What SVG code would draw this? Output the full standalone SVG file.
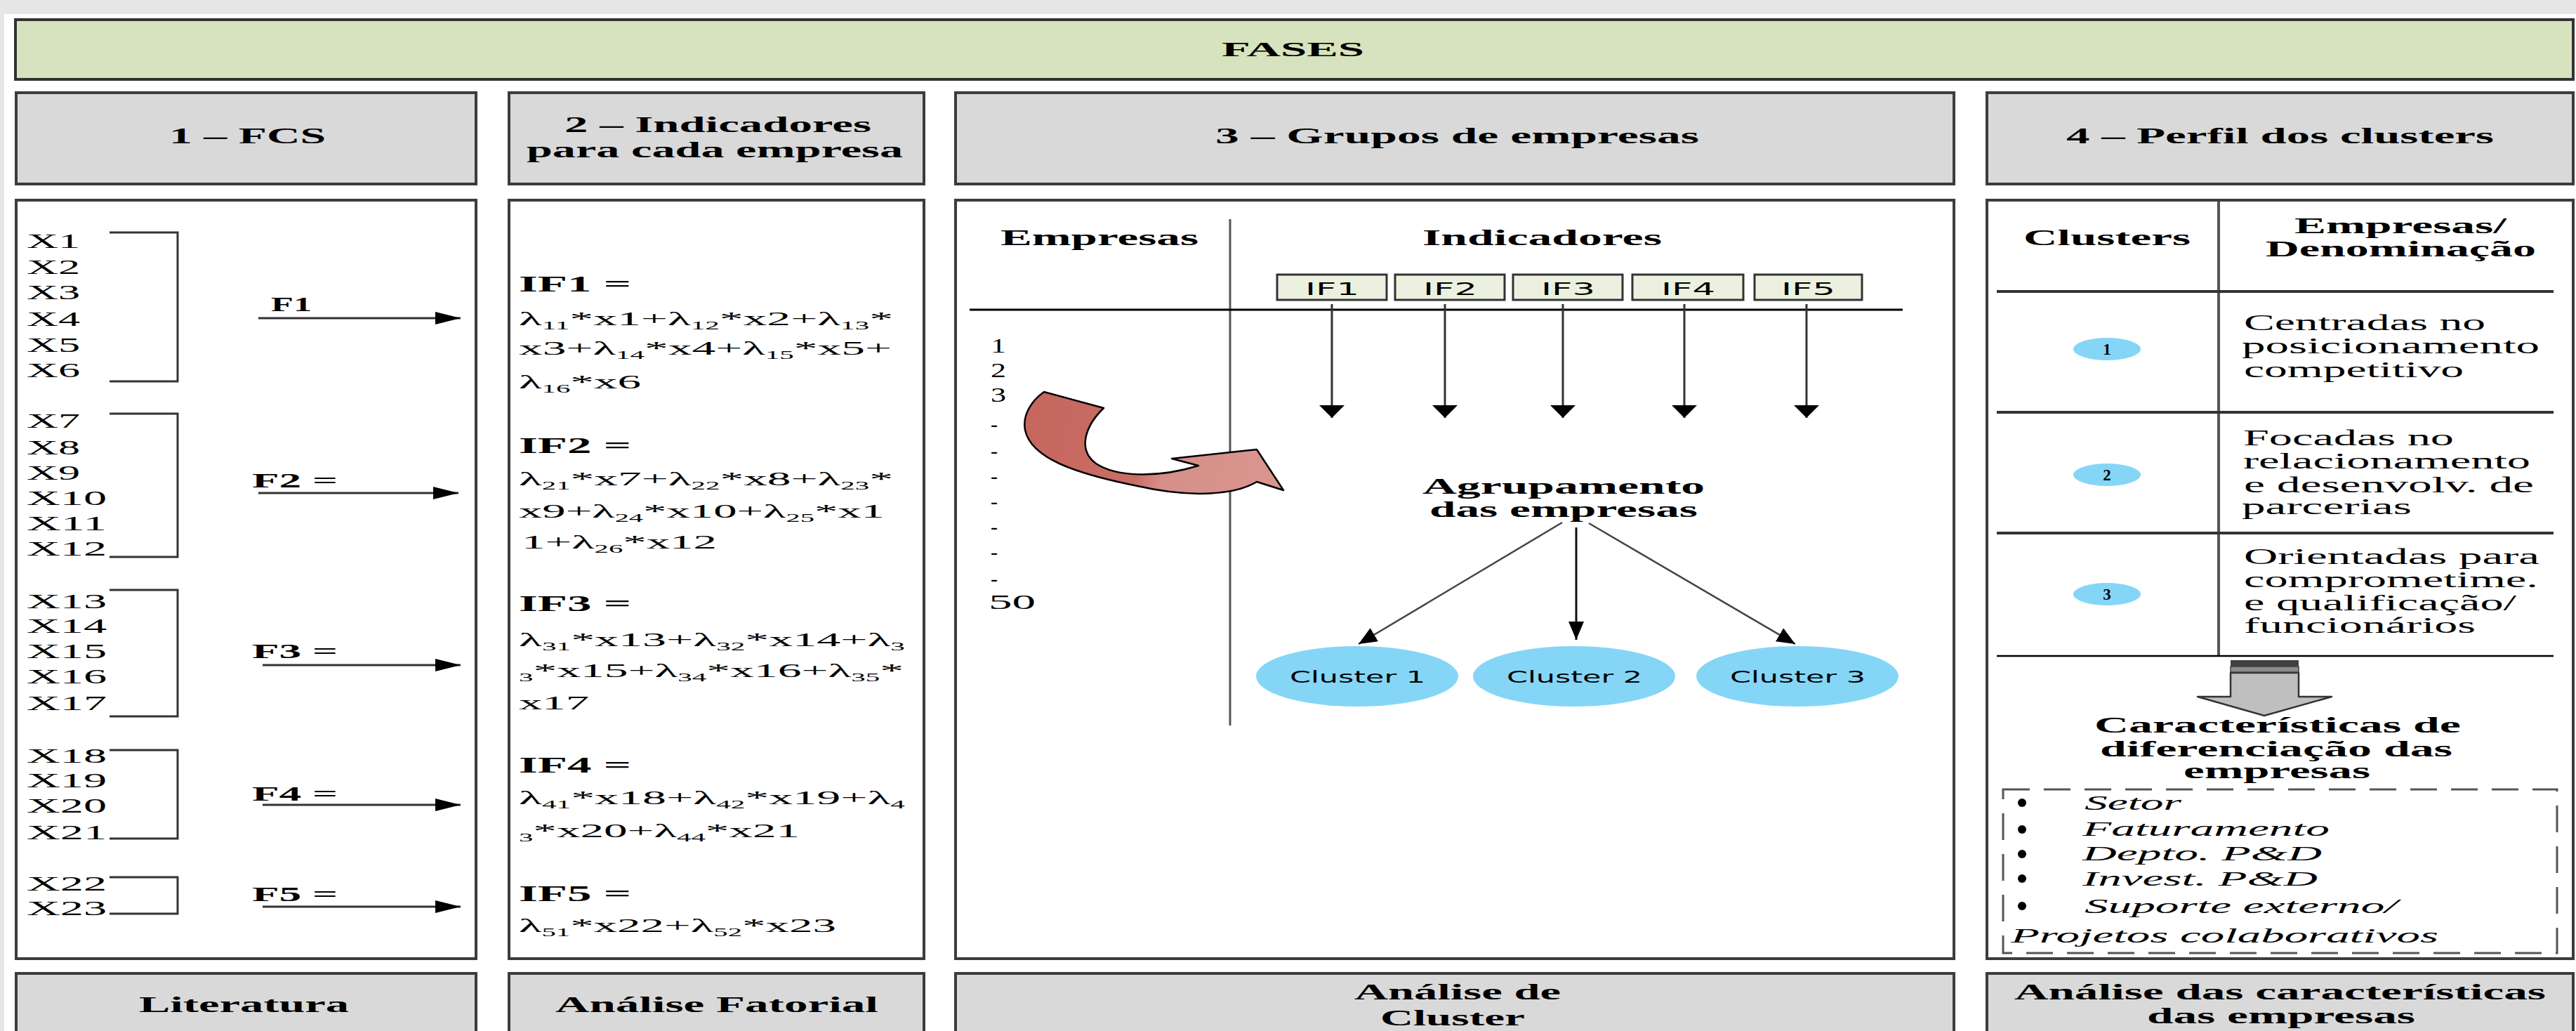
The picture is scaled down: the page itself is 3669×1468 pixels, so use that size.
<svg xmlns="http://www.w3.org/2000/svg" width="3669" height="1468" viewBox="0 0 3669 1468">
<defs>
<style>
.b{font-family:"Liberation Serif","Times New Roman",serif;font-weight:bold;fill:#000}
.r{font-family:"Liberation Serif","Times New Roman",serif;fill:#000}
.it{font-family:"Liberation Serif","Times New Roman",serif;font-style:italic;fill:#000}
.s{font-family:"DejaVu Sans",Verdana,sans-serif;fill:#000}
.hd{font-size:32px}
.h2{font-size:31px}
.f{font-size:28px}
.sub{font-size:17px}
.box{fill:#fff;stroke:#3c3c3c;stroke-width:4}
.hbox{fill:#d9d9d9;stroke:#3c3c3c;stroke-width:4}
.ifb{fill:#ebf1de;stroke:#333;stroke-width:3}
.cl{fill:#85d6f6}
.ln{fill:none;stroke:#333;stroke-width:3}
.ar{fill:none;stroke:#333;stroke-width:3}
</style>
<marker id="mF" markerUnits="userSpaceOnUse" markerWidth="36" markerHeight="18" refX="36" refY="9" orient="auto"><path d="M0,0 L36,9 L0,18 z" fill="#000"/></marker>
<marker id="mIF" markerUnits="userSpaceOnUse" markerWidth="20" markerHeight="36" refX="18" refY="18" orient="auto"><path d="M0,0 L18,18 L0,36 z" fill="#000"/></marker>
<marker id="mC" markerUnits="userSpaceOnUse" markerWidth="26" markerHeight="22" refX="26" refY="11" orient="auto"><path d="M0,0 L26,11 L0,22 z" fill="#000"/></marker>
<linearGradient id="red" gradientUnits="userSpaceOnUse" x1="1462" y1="600" x2="1828" y2="690">
<stop offset="0" stop-color="#c6675e"/><stop offset="0.45" stop-color="#c96d65"/><stop offset="0.55" stop-color="#d68f89"/><stop offset="1" stop-color="#d9968f"/>
</linearGradient>
</defs>

<rect x="0" y="0" width="3669" height="1468" fill="#fff"/>
<rect x="0" y="0" width="3669" height="20" fill="#e6e6e6"/>
<rect x="0" y="0" width="6" height="1468" fill="#e6e6e6"/>

<g id="fases">
<rect x="22" y="28" width="3643" height="85" fill="#d7e3be" stroke="#333" stroke-width="4"/>
<text class="b" x="1740" y="80" font-size="30" textLength="203" lengthAdjust="spacingAndGlyphs">FASES</text>
</g>

<g id="header1">
<rect class="hbox" x="23" y="132" width="655" height="130"/>
<text class="b hd" x="241" y="204" textLength="223" lengthAdjust="spacingAndGlyphs">1 – FCS</text>
</g>
<g id="header2">
<rect class="hbox" x="725" y="132" width="591" height="130"/>
<text class="b hd" x="804" y="188" textLength="437" lengthAdjust="spacingAndGlyphs">2 – Indicadores</text>
<text class="b hd" x="750" y="224" textLength="536" lengthAdjust="spacingAndGlyphs">para cada empresa</text>
</g>
<g id="header3">
<rect class="hbox" x="1361" y="132" width="1422" height="130"/>
<text class="b hd" x="1731" y="204" textLength="689" lengthAdjust="spacingAndGlyphs">3 – Grupos de empresas</text>
</g>
<g id="header4">
<rect class="hbox" x="2830" y="132" width="835" height="130"/>
<text class="b hd" x="2943" y="204" textLength="609" lengthAdjust="spacingAndGlyphs">4 – Perfil dos clusters</text>
</g>

<!-- Phase 1 content -->
<g id="phase1">
<rect class="box" x="23" y="285" width="655" height="1080"/>
<g class="r" font-size="29">
<text x="38" y="353" textLength="76" lengthAdjust="spacingAndGlyphs">X1</text>
<text x="38" y="390" textLength="76" lengthAdjust="spacingAndGlyphs">X2</text>
<text x="38" y="426" textLength="76" lengthAdjust="spacingAndGlyphs">X3</text>
<text x="38" y="464" textLength="76" lengthAdjust="spacingAndGlyphs">X4</text>
<text x="38" y="501" textLength="76" lengthAdjust="spacingAndGlyphs">X5</text>
<text x="38" y="537" textLength="76" lengthAdjust="spacingAndGlyphs">X6</text>
<text x="38" y="609" textLength="76" lengthAdjust="spacingAndGlyphs">X7</text>
<text x="38" y="647" textLength="76" lengthAdjust="spacingAndGlyphs">X8</text>
<text x="38" y="683" textLength="76" lengthAdjust="spacingAndGlyphs">X9</text>
<text x="38" y="719" textLength="114" lengthAdjust="spacingAndGlyphs">X10</text>
<text x="38" y="755" textLength="114" lengthAdjust="spacingAndGlyphs">X11</text>
<text x="38" y="791" textLength="114" lengthAdjust="spacingAndGlyphs">X12</text>
<text x="38" y="866" textLength="114" lengthAdjust="spacingAndGlyphs">X13</text>
<text x="38" y="901" textLength="114" lengthAdjust="spacingAndGlyphs">X14</text>
<text x="38" y="937" textLength="114" lengthAdjust="spacingAndGlyphs">X15</text>
<text x="38" y="973" textLength="114" lengthAdjust="spacingAndGlyphs">X16</text>
<text x="38" y="1011" textLength="114" lengthAdjust="spacingAndGlyphs">X17</text>
<text x="38" y="1086" textLength="114" lengthAdjust="spacingAndGlyphs">X18</text>
<text x="38" y="1121" textLength="114" lengthAdjust="spacingAndGlyphs">X19</text>
<text x="38" y="1157" textLength="114" lengthAdjust="spacingAndGlyphs">X20</text>
<text x="38" y="1195" textLength="114" lengthAdjust="spacingAndGlyphs">X21</text>
<text x="38" y="1268" textLength="114" lengthAdjust="spacingAndGlyphs">X22</text>
<text x="38" y="1303" textLength="114" lengthAdjust="spacingAndGlyphs">X23</text>
</g>
<g class="b" font-size="30">
<text x="386" y="443" textLength="58" lengthAdjust="spacingAndGlyphs">F1</text>
<text x="359" y="694" textLength="122" lengthAdjust="spacingAndGlyphs">F2  =</text>
<text x="359" y="937" textLength="122" lengthAdjust="spacingAndGlyphs">F3  =</text>
<text x="359" y="1140" textLength="122" lengthAdjust="spacingAndGlyphs">F4  =</text>
<text x="359" y="1283" textLength="122" lengthAdjust="spacingAndGlyphs">F5  =</text>
</g>
</g>

<!-- Phase 2 content -->
<g id="phase2">
<rect class="box" x="725" y="285" width="591" height="1080"/>
<g class="b" font-size="31">
<text x="739" y="415" textLength="160" lengthAdjust="spacingAndGlyphs">IF1 =</text>
<text x="739" y="645" textLength="160" lengthAdjust="spacingAndGlyphs">IF2 =</text>
<text x="739" y="870" textLength="160" lengthAdjust="spacingAndGlyphs">IF3 =</text>
<text x="739" y="1100" textLength="160" lengthAdjust="spacingAndGlyphs">IF4 =</text>
<text x="739" y="1283" textLength="160" lengthAdjust="spacingAndGlyphs">IF5 =</text>
</g>
<g class="r f">
<text x="739" y="463" textLength="533" lengthAdjust="spacingAndGlyphs">λ<tspan class="sub" dy="6">11</tspan><tspan dy="-6">*x1+λ</tspan><tspan class="sub" dy="6">12</tspan><tspan dy="-6">*x2+λ</tspan><tspan class="sub" dy="6">13</tspan><tspan dy="-6">*</tspan></text>
<text x="739" y="505" textLength="531" lengthAdjust="spacingAndGlyphs">x3+λ<tspan class="sub" dy="6">14</tspan><tspan dy="-6">*x4+λ</tspan><tspan class="sub" dy="6">15</tspan><tspan dy="-6">*x5+</tspan></text>
<text x="739" y="553" textLength="174" lengthAdjust="spacingAndGlyphs">λ<tspan class="sub" dy="6">16</tspan><tspan dy="-6">*x6</tspan></text>
<text x="739" y="691" textLength="533" lengthAdjust="spacingAndGlyphs">λ<tspan class="sub" dy="6">21</tspan><tspan dy="-6">*x7+λ</tspan><tspan class="sub" dy="6">22</tspan><tspan dy="-6">*x8+λ</tspan><tspan class="sub" dy="6">23</tspan><tspan dy="-6">*</tspan></text>
<text x="739" y="737" textLength="521" lengthAdjust="spacingAndGlyphs">x9+λ<tspan class="sub" dy="6">24</tspan><tspan dy="-6">*x10+λ</tspan><tspan class="sub" dy="6">25</tspan><tspan dy="-6">*x1</tspan></text>
<text x="743" y="781" textLength="278" lengthAdjust="spacingAndGlyphs">1+λ<tspan class="sub" dy="6">26</tspan><tspan dy="-6">*x12</tspan></text>
<text x="739" y="920" textLength="550" lengthAdjust="spacingAndGlyphs">λ<tspan class="sub" dy="6">31</tspan><tspan dy="-6">*x13+λ</tspan><tspan class="sub" dy="6">32</tspan><tspan dy="-6">*x14+λ</tspan><tspan class="sub" dy="6">3</tspan></text>
<text x="739" y="964" textLength="548" lengthAdjust="spacingAndGlyphs"><tspan class="sub" dy="6">3</tspan><tspan dy="-6">*x15+λ</tspan><tspan class="sub" dy="6">34</tspan><tspan dy="-6">*x16+λ</tspan><tspan class="sub" dy="6">35</tspan><tspan dy="-6">*</tspan></text>
<text x="739" y="1010" textLength="100" lengthAdjust="spacingAndGlyphs">x17</text>
<text x="739" y="1145" textLength="550" lengthAdjust="spacingAndGlyphs">λ<tspan class="sub" dy="6">41</tspan><tspan dy="-6">*x18+λ</tspan><tspan class="sub" dy="6">42</tspan><tspan dy="-6">*x19+λ</tspan><tspan class="sub" dy="6">4</tspan></text>
<text x="739" y="1192" textLength="400" lengthAdjust="spacingAndGlyphs"><tspan class="sub" dy="6">3</tspan><tspan dy="-6">*x20+λ</tspan><tspan class="sub" dy="6">44</tspan><tspan dy="-6">*x21</tspan></text>
<text x="739" y="1327" textLength="452" lengthAdjust="spacingAndGlyphs">λ<tspan class="sub" dy="6">51</tspan><tspan dy="-6">*x22+λ</tspan><tspan class="sub" dy="6">52</tspan><tspan dy="-6">*x23</tspan></text>
</g>
</g>

<!-- Phase 3 content -->
<g id="phase3">
<rect class="box" x="1361" y="285" width="1422" height="1080"/>
<line x1="1752" y1="312" x2="1752" y2="1033" stroke="#555" stroke-width="3"/>
<line x1="1381" y1="441" x2="2710" y2="441" stroke="#000" stroke-width="3"/>
<text class="b h2" x="1425" y="349" textLength="282" lengthAdjust="spacingAndGlyphs">Empresas</text>
<text class="b h2" x="2026" y="349" textLength="341" lengthAdjust="spacingAndGlyphs">Indicadores</text>
<g class="r" font-size="30">
<text x="1411" y="502" textLength="22" lengthAdjust="spacingAndGlyphs">1</text>
<text x="1411" y="537" textLength="22" lengthAdjust="spacingAndGlyphs">2</text>
<text x="1411" y="572" textLength="22" lengthAdjust="spacingAndGlyphs">3</text>
<text x="1411" y="614">-</text>
<text x="1411" y="652">-</text>
<text x="1411" y="688">-</text>
<text x="1411" y="724">-</text>
<text x="1411" y="760">-</text>
<text x="1411" y="796">-</text>
<text x="1411" y="834">-</text>
<text x="1408" y="867" textLength="67" lengthAdjust="spacingAndGlyphs">50</text>
</g>
<path d="M1487,558 L1572,581 C1546,606 1534,640 1561,660 C1588,678 1645,682 1707,663 L1669,653 L1790,640 L1828,698 L1790,686 C1760,704 1700,710 1620,692 C1530,674 1468,652 1460,612 C1456,590 1470,570 1487,558 Z" fill="url(#red)" stroke="#000" stroke-width="2.5" stroke-linejoin="round"/>
<text class="b h2" x="2026" y="703" textLength="402" lengthAdjust="spacingAndGlyphs">Agrupamento</text>
<text class="b h2" x="2036" y="736" textLength="382" lengthAdjust="spacingAndGlyphs">das empresas</text>
</g>

<g id="if1"><rect class="ifb" x="1819" y="391" width="156" height="36"/><text class="s" x="1859" y="420" font-size="25" textLength="77" lengthAdjust="spacingAndGlyphs">IF1</text></g>
<g id="if2"><rect class="ifb" x="1987" y="391" width="156" height="36"/><text class="s" x="2027" y="420" font-size="25" textLength="77" lengthAdjust="spacingAndGlyphs">IF2</text></g>
<g id="if3"><rect class="ifb" x="2155" y="391" width="156" height="36"/><text class="s" x="2195" y="420" font-size="25" textLength="77" lengthAdjust="spacingAndGlyphs">IF3</text></g>
<g id="if4"><rect class="ifb" x="2325" y="391" width="158" height="36"/><text class="s" x="2366" y="420" font-size="25" textLength="77" lengthAdjust="spacingAndGlyphs">IF4</text></g>
<g id="if5"><rect class="ifb" x="2499" y="391" width="153" height="36"/><text class="s" x="2537" y="420" font-size="25" textLength="77" lengthAdjust="spacingAndGlyphs">IF5</text></g>

<g id="cluster1"><ellipse class="cl" cx="1933" cy="963" rx="144" ry="43"/><text class="s" x="1837" y="972" font-size="23" textLength="193" lengthAdjust="spacingAndGlyphs">Cluster 1</text></g>
<g id="cluster2"><ellipse class="cl" cx="2242" cy="963" rx="144" ry="43"/><text class="s" x="2146" y="972" font-size="23" textLength="193" lengthAdjust="spacingAndGlyphs">Cluster 2</text></g>
<g id="cluster3"><ellipse class="cl" cx="2560" cy="963" rx="144" ry="43"/><text class="s" x="2464" y="972" font-size="23" textLength="193" lengthAdjust="spacingAndGlyphs">Cluster 3</text></g>

<!-- Phase 4 content -->
<g id="phase4">
<rect class="box" x="2830" y="285" width="835" height="1080"/>
<line x1="3160" y1="287" x2="3160" y2="934" stroke="#555" stroke-width="4"/>
<line x1="2844" y1="415" x2="3637" y2="415" stroke="#333" stroke-width="4"/>
<line x1="2844" y1="587" x2="3637" y2="587" stroke="#333" stroke-width="4"/>
<line x1="2844" y1="759" x2="3637" y2="759" stroke="#333" stroke-width="4"/>
<line x1="2844" y1="934" x2="3637" y2="934" stroke="#000" stroke-width="2.5"/>
<text class="b h2" x="2882" y="349" textLength="238" lengthAdjust="spacingAndGlyphs">Clusters</text>
<text class="b h2" x="3268" y="332" textLength="302" lengthAdjust="spacingAndGlyphs">Empresas/</text>
<text class="b h2" x="3227" y="365" textLength="385" lengthAdjust="spacingAndGlyphs">Denominação</text>
<g class="r" font-size="31">
<text x="3196" y="470" textLength="344" lengthAdjust="spacingAndGlyphs">Centradas no</text>
<text x="3193" y="503" textLength="424" lengthAdjust="spacingAndGlyphs">posicionamento</text>
<text x="3196" y="537" textLength="313" lengthAdjust="spacingAndGlyphs">competitivo</text>
<text x="3195" y="634" textLength="300" lengthAdjust="spacingAndGlyphs">Focadas no</text>
<text x="3195" y="667" textLength="409" lengthAdjust="spacingAndGlyphs">relacionamento</text>
<text x="3196" y="701" textLength="413" lengthAdjust="spacingAndGlyphs">e desenvolv. de</text>
<text x="3193" y="732" textLength="242" lengthAdjust="spacingAndGlyphs">parcerias</text>
<text x="3196" y="803" textLength="421" lengthAdjust="spacingAndGlyphs">Orientadas para</text>
<text x="3196" y="836" textLength="419" lengthAdjust="spacingAndGlyphs">comprometime.</text>
<text x="3196" y="869" textLength="388" lengthAdjust="spacingAndGlyphs">e qualificação/</text>
<text x="3196" y="901" textLength="330" lengthAdjust="spacingAndGlyphs">funcionários</text>
</g>
<g id="blockarrow">
<path d="M3177,958 H3274 V992 H3321 L3225,1019 L3130,992 H3177 Z" fill="#bfbfbf" stroke="#333" stroke-width="2.5" stroke-linejoin="round"/>
<rect x="3177" y="940" width="97" height="9" fill="#404040"/>
<rect x="3177" y="949" width="97" height="8" fill="#8c8c8c" stroke="#404040" stroke-width="1.5"/>
</g>
<text class="b h2" x="2983" y="1043" textLength="522" lengthAdjust="spacingAndGlyphs">Características de</text>
<text class="b h2" x="2991" y="1077" textLength="502" lengthAdjust="spacingAndGlyphs">diferenciação das</text>
<text class="b h2" x="3110" y="1108" textLength="266" lengthAdjust="spacingAndGlyphs">empresas</text>
<rect x="2853" y="1124" width="789" height="233" fill="none" stroke="#555" stroke-width="3" stroke-dasharray="38 20"/>
<g fill="#000">
<circle cx="2880" cy="1143" r="6"/>
<circle cx="2880" cy="1181" r="6"/>
<circle cx="2880" cy="1216" r="6"/>
<circle cx="2880" cy="1251" r="6"/>
<circle cx="2880" cy="1290" r="6"/>
</g>
<g class="it" font-size="29">
<text x="2969" y="1153" textLength="138" lengthAdjust="spacingAndGlyphs">Setor</text>
<text x="2966" y="1190" textLength="352" lengthAdjust="spacingAndGlyphs">Faturamento</text>
<text x="2966" y="1225" textLength="341" lengthAdjust="spacingAndGlyphs">Depto. P&amp;D</text>
<text x="2966" y="1261" textLength="335" lengthAdjust="spacingAndGlyphs">Invest. P&amp;D</text>
<text x="2969" y="1300" textLength="446" lengthAdjust="spacingAndGlyphs">Suporte externo/</text>
<text x="2864" y="1342" textLength="609" lengthAdjust="spacingAndGlyphs">Projetos colaborativos</text>
</g>
</g>

<g id="badge1"><ellipse class="cl" cx="3001" cy="497" rx="48" ry="16"/><text class="b" x="3001" y="505" font-size="23" text-anchor="middle">1</text></g>
<g id="badge2"><ellipse class="cl" cx="3001" cy="676" rx="48" ry="16"/><text class="b" x="3001" y="684" font-size="23" text-anchor="middle">2</text></g>
<g id="badge3"><ellipse class="cl" cx="3001" cy="846" rx="48" ry="16"/><text class="b" x="3001" y="854" font-size="23" text-anchor="middle">3</text></g>

<!-- Footers -->
<g id="footer1"><rect class="hbox" x="23" y="1386" width="655" height="110"/><text class="b h2" x="198" y="1441" textLength="299" lengthAdjust="spacingAndGlyphs">Literatura</text></g>
<g id="footer2"><rect class="hbox" x="725" y="1386" width="591" height="110"/><text class="b h2" x="791" y="1441" textLength="460" lengthAdjust="spacingAndGlyphs">Análise Fatorial</text></g>
<g id="footer3"><rect class="hbox" x="1361" y="1386" width="1422" height="110"/><text class="b h2" x="1929" y="1423" textLength="294" lengthAdjust="spacingAndGlyphs">Análise de</text><text class="b h2" x="1966" y="1460" textLength="206" lengthAdjust="spacingAndGlyphs">Cluster</text></g>
<g id="footer4"><rect class="hbox" x="2830" y="1386" width="835" height="110"/><text class="b h2" x="2869" y="1423" textLength="757" lengthAdjust="spacingAndGlyphs">Análise das características</text><text class="b h2" x="3058" y="1457" textLength="382" lengthAdjust="spacingAndGlyphs">das empresas</text></g>

<!-- Connectors -->
<g id="connectors">
<path class="ln" d="M156,331 H253 V543 H156"/>
<path class="ln" d="M156,589 H253 V793 H156"/>
<path class="ln" d="M156,840 H253 V1020 H156"/>
<path class="ln" d="M156,1068 H253 V1194 H156"/>
<path class="ln" d="M156,1249 H253 V1301 H156"/>
<line class="ar" x1="368" y1="453" x2="656" y2="453" marker-end="url(#mF)"/>
<line class="ar" x1="368" y1="702" x2="653" y2="702" marker-end="url(#mF)"/>
<line class="ar" x1="374" y1="947" x2="656" y2="947" marker-end="url(#mF)"/>
<line class="ar" x1="374" y1="1146" x2="656" y2="1146" marker-end="url(#mF)"/>
<line class="ar" x1="374" y1="1291" x2="656" y2="1291" marker-end="url(#mF)"/>
<line class="ar" x1="1897" y1="433" x2="1897" y2="595" marker-end="url(#mIF)"/>
<line class="ar" x1="2058" y1="433" x2="2058" y2="595" marker-end="url(#mIF)"/>
<line class="ar" x1="2226" y1="433" x2="2226" y2="595" marker-end="url(#mIF)"/>
<line class="ar" x1="2399" y1="433" x2="2399" y2="595" marker-end="url(#mIF)"/>
<line class="ar" x1="2573" y1="433" x2="2573" y2="595" marker-end="url(#mIF)"/>
<line x1="2225" y1="744" x2="1935" y2="917" stroke="#444" stroke-width="2.5" marker-end="url(#mC)"/>
<line x1="2245" y1="751" x2="2245" y2="911" stroke="#111" stroke-width="3" marker-end="url(#mC)"/>
<line x1="2263" y1="745" x2="2557" y2="917" stroke="#444" stroke-width="2.5" marker-end="url(#mC)"/>
</g>
</svg>
